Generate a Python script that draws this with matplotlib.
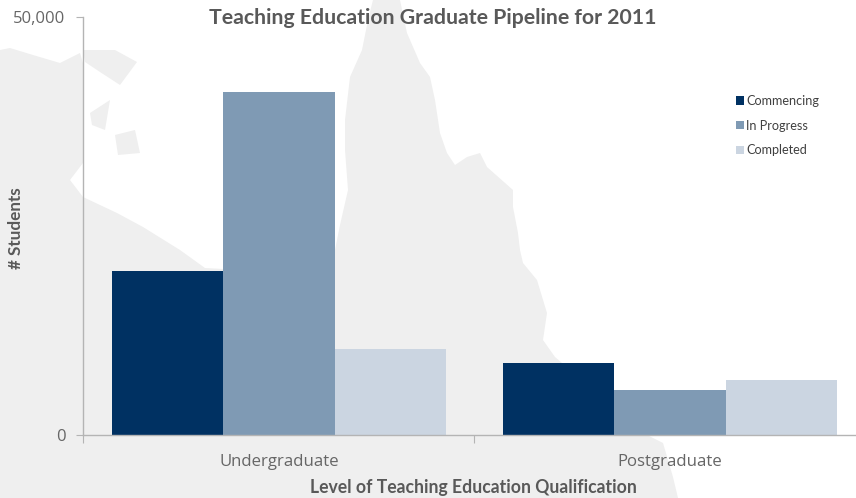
from matplotlib import pyplot as plt
from matplotlib.patches import Polygon
from matplotlib.ticker import FixedLocator, FuncFormatter
import numpy as np

categories = ['Undergraduate', 'Postgraduate']
series_names = ['Commencing', 'In Progress', 'Completed']
commencing = [19600, 8600]
in_progress = [41000, 5400]
completed = [10300, 6600]
y_ticks = [0, 50000]

colors = ['#003162', '#7f9ab4', '#cbd5e1']
land_color = '#efefef'
grey_text = '#666666'
axis_color = '#b4b4b4'

# background map outline, in pixels of the picture
land = [(0, 50), (10, 48), (33, 55), (60, 63), (80, 53), (83, 63), (83, 163), (70, 180),
        (83, 197), (117, 213), (143, 227), (180, 250), (205, 268), (280, 272), (335, 250),
        (340, 225), (348, 190), (345, 150), (345, 120), (350, 77), (362, 50), (368, 20),
        (373, 0), (400, 0), (407, 33), (420, 63), (430, 77), (435, 100), (440, 133),
        (447, 153), (455, 165), (467, 157), (480, 153), (487, 167), (513, 190), (513, 207),
        (518, 233), (520, 250), (523, 263), (537, 280), (547, 313), (543, 340), (555, 357),
        (647, 435), (663, 443), (673, 477), (678, 498), (0, 498)]
islands = [[(83, 50), (115, 50), (137, 62), (120, 85), (100, 72), (85, 62)],
           [(90, 113), (110, 100), (105, 130), (92, 125)],
           [(115, 135), (135, 130), (140, 153), (118, 155)]]

fig = plt.figure(figsize=(8.56, 4.98), dpi=100)
fig.patch.set_facecolor('white')

bg = fig.add_axes([0, 0, 1, 1])
bg.set_xlim(0, 856)
bg.set_ylim(498, 0)
bg.axis('off')
bg.add_patch(Polygon(land, closed=True, fc=land_color, ec='none'))
for island in islands:
    bg.add_patch(Polygon(island, closed=True, fc=land_color, ec='none'))

# plot area runs past the right edge of the picture, like the original
ax = fig.add_axes([83.4 / 856, 1 - 435 / 498, 782 / 856, 418 / 498])
ax.patch.set_alpha(0)
ax.set_xlim(-0.5, 1.5)
ax.set_ylim(0, 50000)

x = np.arange(len(categories))
bar_w = 0.285
for i, values in enumerate([commencing, in_progress, completed]):
    ax.bar(x + (i - 1) * bar_w, values, bar_w, color=colors[i], label=series_names[i])

for side in ['top', 'right']:
    ax.spines[side].set_visible(False)
for side in ['left', 'bottom']:
    ax.spines[side].set_color(axis_color)
    ax.spines[side].set_linewidth(1)

ax.set_yticks(y_ticks)
ax.yaxis.set_major_formatter(FuncFormatter(lambda v, p: f'{int(v):,}'))
ax.tick_params(axis='y', length=5, color=axis_color, labelcolor=grey_text, labelsize=12, pad=8)
for label in ax.get_yticklabels():
    label.set_fontfamily('Open Sans')

ax.set_xticks([-0.5, 0.5, 1.5])
ax.set_xticklabels([])
ax.xaxis.set_minor_locator(FixedLocator(x))
ax.set_xticklabels(categories, minor=True)
ax.tick_params(axis='x', which='major', length=6, color=axis_color)
ax.tick_params(axis='x', which='minor', length=0, labelcolor=grey_text, labelsize=12.1, pad=14)
for label in ax.get_xticklabels(minor=True):
    label.set_fontfamily('Open Sans')

fig.text(433 / 856, 1 - 18 / 498, 'Teaching Education Graduate Pipeline for 2011', ha='center', va='center',
         fontsize=15.3, fontweight='bold', family='Lato', color='#595959')
fig.text(473.5 / 856, 1 - 487 / 498, 'Level of Teaching Education Qualification', ha='center', va='center',
         fontsize=12.7, fontweight='bold', family='Lato', color='#595959')
fig.text(16 / 856, 1 - 228 / 498, '# Students', rotation=90, ha='center', va='center',
         fontsize=12.3, fontweight='bold', family='Lato', color='#595959')

leg = ax.legend(loc='upper left', bbox_to_anchor=(736 / 856, 1 - 95 / 498), bbox_transform=fig.transFigure,
                frameon=False, prop={'family': 'Lato', 'size': 9.1}, handlelength=0.65, handleheight=0.65,
                handletextpad=0.15, labelspacing=1.0, borderpad=0, borderaxespad=0)
for text in leg.get_texts():
    text.set_color('#404040')

plt.savefig('out.png', dpi=100)
